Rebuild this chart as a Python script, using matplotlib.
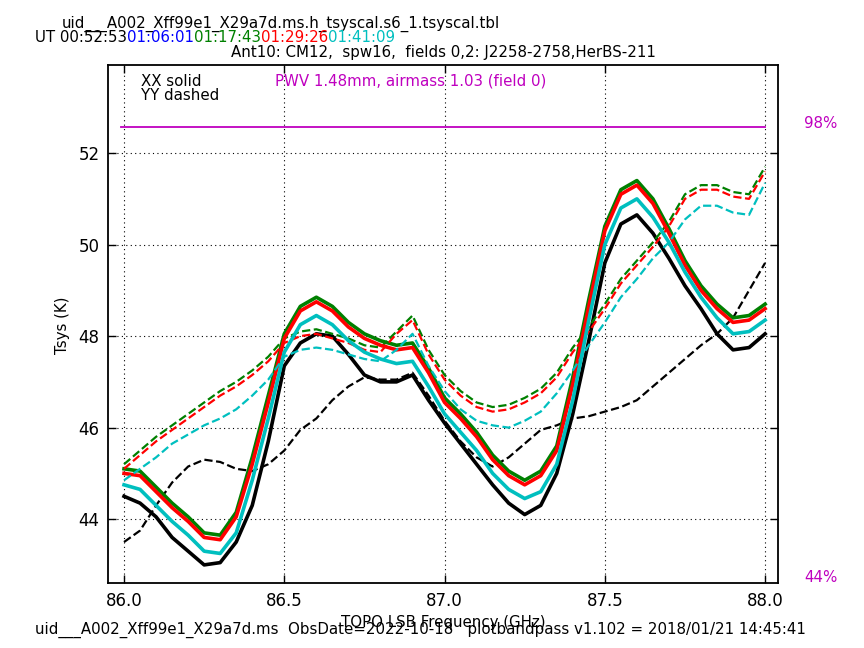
import matplotlib
matplotlib.use("Agg")
import matplotlib.pyplot as plt

# channel frequencies (GHz), read every 0.05 GHz
freq = [86.00, 86.05, 86.10, 86.15, 86.20, 86.25, 86.30, 86.35, 86.40, 86.45,
        86.50, 86.55, 86.60, 86.65, 86.70, 86.75, 86.80, 86.85, 86.90, 86.95,
        87.00, 87.05, 87.10, 87.15, 87.20, 87.25, 87.30, 87.35, 87.40, 87.45,
        87.50, 87.55, 87.60, 87.65, 87.70, 87.75, 87.80, 87.85, 87.90, 87.95,
        88.00]

# Tsys (K), XX polarization (solid), one list per scan
xx_0052 = [44.5, 44.35, 44.05, 43.6, 43.3, 43.0, 43.05, 43.5, 44.3, 45.7,
           47.35, 47.85, 48.05, 48.0, 47.6, 47.15, 47.0, 47.0, 47.15, 46.6,
           46.1, 45.65, 45.2, 44.75, 44.35, 44.1, 44.3, 45.0, 46.3, 47.9,
           49.6, 50.45, 50.65, 50.25, 49.7, 49.1, 48.6, 48.05, 47.7, 47.75,
           48.05]
xx_0117 = [45.1, 45.05, 44.7, 44.35, 44.05, 43.7, 43.65, 44.15, 45.35, 46.7,
           48.05, 48.65, 48.85, 48.65, 48.3, 48.05, 47.9, 47.8, 47.85, 47.3,
           46.65, 46.3, 45.9, 45.4, 45.05, 44.85, 45.05, 45.6, 47.1, 48.8,
           50.4, 51.2, 51.4, 51.0, 50.35, 49.65, 49.1, 48.7, 48.4, 48.45,
           48.7]
xx_0129 = [45.0, 44.95, 44.6, 44.25, 43.95, 43.6, 43.55, 44.05, 45.2, 46.55,
           47.95, 48.55, 48.75, 48.55, 48.2, 47.95, 47.8, 47.7, 47.75, 47.2,
           46.55, 46.2, 45.8, 45.3, 44.95, 44.75, 44.95, 45.5, 46.95, 48.65,
           50.3, 51.1, 51.3, 50.9, 50.25, 49.55, 49.0, 48.6, 48.3, 48.35,
           48.6]
xx_0141 = [44.75, 44.65, 44.3, 43.95, 43.65, 43.3, 43.25, 43.7, 44.85, 46.2,
           47.65, 48.25, 48.45, 48.25, 47.9, 47.65, 47.5, 47.4, 47.45, 46.9,
           46.3, 45.9, 45.5, 45.0, 44.65, 44.45, 44.6, 45.2, 46.6, 48.35,
           50.0, 50.8, 51.0, 50.6, 50.05, 49.4, 48.85, 48.4, 48.05, 48.1,
           48.35]

# Tsys (K), YY polarization (dashed)
yy_0052 = [43.5, 43.75, 44.3, 44.8, 45.15, 45.3, 45.25, 45.1, 45.05, 45.2,
           45.5, 45.95, 46.2, 46.6, 46.9, 47.1, 47.05, 47.05, 47.2, 46.7,
           46.15, 45.7, 45.35, 45.15, 45.35, 45.65, 45.95, 46.05, 46.2, 46.25,
           46.35, 46.45, 46.6, 46.9, 47.2, 47.5, 47.8, 48.05, 48.4, 49.0,
           49.6]
yy_0117 = [45.2, 45.5, 45.8, 46.05, 46.3, 46.55, 46.8, 47.0, 47.25, 47.55,
           47.95, 48.1, 48.15, 48.05, 47.95, 47.8, 47.75, 48.1, 48.45, 47.7,
           47.15, 46.8, 46.55, 46.45, 46.5, 46.65, 46.85, 47.2, 47.75, 48.2,
           48.7, 49.25, 49.65, 50.05, 50.5, 51.1, 51.3, 51.3, 51.15, 51.1,
           51.7]
yy_0129 = [45.1, 45.4, 45.7, 45.95, 46.2, 46.45, 46.7, 46.9, 47.15, 47.45,
           47.85, 48.0, 48.05, 47.95, 47.85, 47.7, 47.65, 48.05, 48.35, 47.6,
           47.05, 46.7, 46.45, 46.35, 46.4, 46.55, 46.75, 47.1, 47.65, 48.1,
           48.6, 49.15, 49.55, 49.95, 50.4, 51.0, 51.2, 51.2, 51.05, 51.0,
           51.6]
yy_0141 = [44.85, 45.1, 45.35, 45.65, 45.85, 46.05, 46.2, 46.4, 46.7, 47.05,
           47.55, 47.7, 47.75, 47.7, 47.6, 47.5, 47.45, 47.7, 48.05, 47.35,
           46.8, 46.4, 46.15, 46.05, 46.0, 46.15, 46.35, 46.75, 47.25, 47.8,
           48.3, 48.85, 49.25, 49.7, 50.05, 50.55, 50.85, 50.85, 50.7, 50.65,
           51.35]

ut_labels = ["UT 00:52:53", "01:06:01", "01:17:43", "01:29:26", "01:41:09"]
ut_colors = ["k", "b", (0, 0.5, 0), "r", (0, 0.75, 0.75)]

# atmospheric transmission trace (drawn at its Tsys-scaled level)
atm_freq = [85.99, 88.00]
atm_level = [52.57, 52.57]

magenta = (0.75, 0, 0.75)
FS = 10.8

fig = plt.figure(figsize=(8.64, 6.48), dpi=100)
ax = fig.add_axes([0.125, 0.1, 0.775, 0.8])

series = [(xx_0052, yy_0052, "k"),
          (xx_0117, yy_0117, (0, 0.5, 0)),
          (xx_0129, yy_0129, "r"),
          (xx_0141, yy_0141, (0, 0.75, 0.75))]
for xx, yy, col in series:
    ax.plot(freq, xx, "-", color=col, lw=2.6)
    ax.plot(freq, yy, "--", color=col, lw=1.6)

ax.plot(atm_freq, atm_level, "-", color=magenta, lw=1.3)

ax.set_xlim(85.95, 88.039)
ax.set_ylim(42.6, 53.93)
ax.set_xticks([86.0, 86.5, 87.0, 87.5, 88.0])
ax.set_xticklabels(["86.0", "86.5", "87.0", "87.5", "88.0"])
ax.set_yticks([44, 46, 48, 50, 52])
ax.tick_params(direction="in", top=True, right=True, length=6, width=1,
               labelsize=12, pad=6)
ax.grid(True, color="k", lw=0.8, dashes=(1, 3))
for sp in ax.spines.values():
    sp.set_linewidth(1.3)

# header lines
fig.text(62 / 864, 1 - 24 / 648, "uid___A002_Xff99e1_X29a7d.ms.h_tsyscal.s6_1.tsyscal.tbl",
         fontsize=FS, va="center", ha="left")
renderer = fig.canvas.get_renderer()
xpos = 35 / 864
for lab, col in zip(ut_labels, ut_colors):
    t = fig.text(xpos, 1 - 38 / 648, lab, color=col, fontsize=FS, va="center", ha="left")
    xpos = t.get_window_extent(renderer).x1 / fig.bbox.width
fig.text(443 / 864, 1 - 52 / 648, "Ant10: CM12,  spw16,  fields 0,2: J2258-2758,HerBS-211",
         fontsize=FS, va="center", ha="center")

fig.text(141 / 864, 1 - 81 / 648, "XX solid", fontsize=FS, va="center")
fig.text(141 / 864, 1 - 96 / 648, "YY dashed", fontsize=FS, va="center")
fig.text(275 / 864, 1 - 81 / 648, "PWV 1.48mm, airmass 1.03 (field 0)",
         color=magenta, fontsize=FS, va="center")
fig.text(804 / 864, 1 - 123 / 648, "98%", color=magenta, fontsize=FS, va="center")
fig.text(804 / 864, 1 - 578 / 648, "44%", color=magenta, fontsize=FS, va="center")

fig.text(63 / 864, 1 - 325 / 648, "Tsys (K)", fontsize=FS, rotation=90,
         va="center", ha="center")
# the x label and the footer overlap in the original as well
fig.text(443 / 864, 1 - 622 / 648, "TOPO LSB Frequency (GHz)", fontsize=FS,
         va="center", ha="center")
fig.text(35 / 864, 1 - 630 / 648,
         "uid___A002_Xff99e1_X29a7d.ms  ObsDate=2022-10-18   plotbandpass v1.102 = 2018/01/21 14:45:41",
         fontsize=FS, va="center", ha="left")

fig.savefig("out.png", dpi=100, facecolor="white")
